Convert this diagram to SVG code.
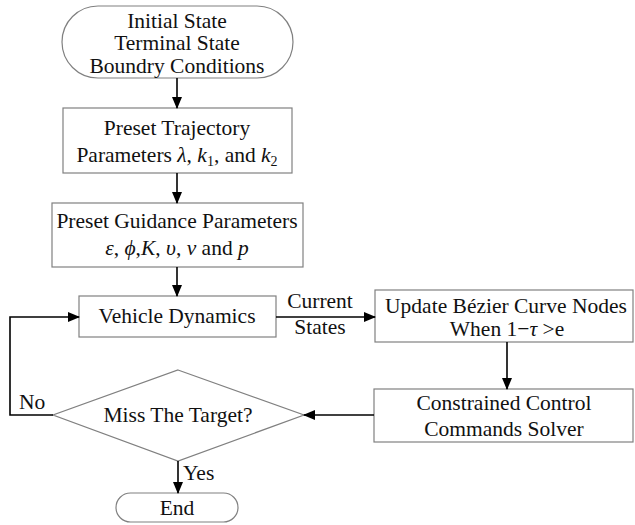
<svg xmlns="http://www.w3.org/2000/svg" width="635" height="525" viewBox="0 0 635 525">
<style>
.box{fill:#fff;stroke:#808080;stroke-width:1.2}
.t{font-family:"Liberation Serif","Times New Roman",serif;font-size:21.5px;fill:#111;text-anchor:middle}
.tl{font-family:"Liberation Serif","Times New Roman",serif;font-size:21.5px;fill:#111}
.i{font-style:italic}
.c{fill:none;stroke:#000;stroke-width:1.6}
</style>
<defs>
<marker id="ah" markerUnits="userSpaceOnUse" markerWidth="12" markerHeight="10" refX="11" refY="5" orient="auto">
<path d="M0,0 L12,5 L0,10 z" fill="#000"/>
</marker>
</defs>
<rect width="635" height="525" fill="#fff"/>
<g id="start">
<rect class="box" x="62" y="6" width="231" height="72" rx="36" ry="36"/>
<text class="t" x="177" y="28">Initial State</text>
<text class="t" x="177" y="50">Terminal State</text>
<text class="t" x="177" y="73">Boundry Conditions</text>
</g>
<g id="trajectory">
<rect class="box" x="63" y="108" width="229" height="65"/>
<text class="t" x="177" y="135">Preset Trajectory</text>
<text class="t" x="177" y="162">Parameters <tspan class="i">λ</tspan>, <tspan class="i">k</tspan><tspan font-size="14" dy="4">1</tspan><tspan dy="-4">, and </tspan><tspan class="i">k</tspan><tspan font-size="14" dy="4">2</tspan></text>
</g>
<g id="guidance">
<rect class="box" x="52" y="203" width="251" height="64"/>
<text class="t" x="177" y="228">Preset Guidance Parameters</text>
<text class="t" x="177" y="255"><tspan class="i">ε</tspan>, <tspan class="i">ϕ</tspan>,<tspan class="i">K</tspan>, <tspan class="i">υ</tspan>, <tspan class="i">ν</tspan> and <tspan class="i">p</tspan></text>
</g>
<g id="vehicle">
<rect class="box" x="79" y="296" width="197" height="41"/>
<text class="t" x="177" y="323">Vehicle Dynamics</text>
</g>
<g id="update">
<rect class="box" x="375" y="290" width="258" height="52"/>
<text class="t" x="506" y="313">Update Bézier Curve Nodes</text>
<text class="t" x="507" y="336">When 1−<tspan class="i">τ</tspan> &gt;e</text>
</g>
<g id="solver">
<rect class="box" x="374" y="389" width="259" height="53"/>
<text class="t" x="504" y="410">Constrained Control</text>
<text class="t" x="504" y="436">Commands Solver</text>
</g>
<g id="decision">
<polygon class="box" points="178,370 304,415 178,461 53,415"/>
<text class="t" x="178" y="422">Miss The Target?</text>
</g>
<g id="end">
<rect class="box" x="116" y="493" width="122" height="29" rx="14.5" ry="14.5"/>
<text class="t" x="177" y="515">End</text>
</g>
<g id="connectors">
<line class="c" x1="177" y1="78" x2="177" y2="108" marker-end="url(#ah)"/>
<line class="c" x1="177" y1="173" x2="177" y2="203" marker-end="url(#ah)"/>
<line class="c" x1="177" y1="267" x2="177" y2="296" marker-end="url(#ah)"/>
<line class="c" x1="276" y1="317" x2="375" y2="317" marker-end="url(#ah)"/>
<line class="c" x1="507" y1="342" x2="507" y2="389" marker-end="url(#ah)"/>
<line class="c" x1="374" y1="415" x2="304" y2="415" marker-end="url(#ah)"/>
<polyline class="c" points="53,415 10,415 10,317 79,317" marker-end="url(#ah)"/>
<line class="c" x1="178" y1="461" x2="178" y2="493" marker-end="url(#ah)"/>
<text class="t" x="320" y="308">Current</text>
<text class="t" x="320" y="334">States</text>
<text class="tl" x="19" y="409">No</text>
<text class="tl" x="183" y="480">Yes</text>
</g>
</svg>
